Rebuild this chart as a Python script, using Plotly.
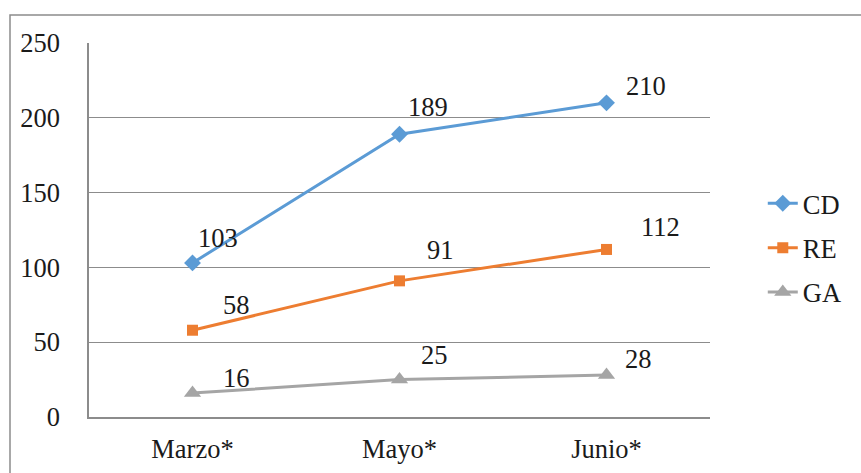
import plotly.graph_objects as go

# Months and series values
months = ["Marzo*", "Mayo*", "Junio*"]
cd = [103, 189, 210]
re_vals = [58, 91, 112]
ga = [16, 25, 28]

series = [
    ("CD", cd, "#5B9BD5", "diamond", 13),
    ("RE", re_vals, "#ED7D31", "square", 11),
    ("GA", ga, "#A5A5A5", "triangle-up", 15),
]

# Pixel offsets of each value label relative to its point
label_dx = {
    "CD": [25, 28, 39],
    "RE": [44, 41, 54],
    "GA": [44, 35, 32],
}
label_dy = {
    "CD": [25, 27, 17],
    "RE": [25, 31, 22],
    "GA": [15, 25, 16],
}

FONT = "Liberation Serif"
FS = 26.5
TXT = "#1a1a1a"
GRID = "#8c8c8c"

fig = go.Figure()
annotations = []
for i, (name, vals, color, symbol, msize) in enumerate(series):
    fig.add_trace(go.Scatter(
        x=months, y=vals, name=name, mode="lines+markers",
        line=dict(color=color, width=3),
        marker=dict(symbol=symbol, size=msize, color=color),
        legendgroup=name,
    ))
    for j, (m, v) in enumerate(zip(months, vals)):
        annotations.append(dict(
            x=m, y=v, xref="x", yref="y", text=str(v), showarrow=False,
            xshift=label_dx[name][j], yshift=label_dy[name][j],
            font=dict(family=FONT, size=FS, color=TXT),
        ))

fig.update_layout(
    width=861, height=473,
    margin=dict(l=89, r=151, t=43, b=56),
    paper_bgcolor="white", plot_bgcolor="white",
    font=dict(family=FONT, size=FS, color=TXT),
    showlegend=True,
    legend=dict(
        x=1.085, y=0.452, xanchor="left", yanchor="middle",
        font=dict(family=FONT, size=FS, color=TXT),
        tracegroupgap=7, bgcolor="rgba(0,0,0,0)",
    ),
    annotations=annotations,
    shapes=[dict(
        type="rect", xref="paper", yref="paper",
        x0=(10 - 89) / 621, x1=(880 - 89) / 621,
        y0=(417 - 490) / 374, y1=1 + (43 - 15) / 374,
        line=dict(color="#8c8c8c", width=1.5), fillcolor="rgba(0,0,0,0)",
        layer="below",
    )],
)

fig.update_xaxes(
    type="category", range=[-0.5, 2.5], automargin=False,
    showline=True, linecolor=GRID, linewidth=1.5,
    showgrid=False, ticks="", ticklabelstandoff=7,
    tickfont=dict(family=FONT, size=FS, color=TXT),
)
fig.update_yaxes(
    range=[0, 250], tickvals=[0, 50, 100, 150, 200, 250], automargin=False,
    showline=True, linecolor=GRID, linewidth=1.5,
    showgrid=True, gridcolor=GRID, gridwidth=1.2,
    zeroline=False, ticks="", ticklabelstandoff=22,
    tickfont=dict(family=FONT, size=FS, color=TXT),
)

fig.write_html("out.html")
